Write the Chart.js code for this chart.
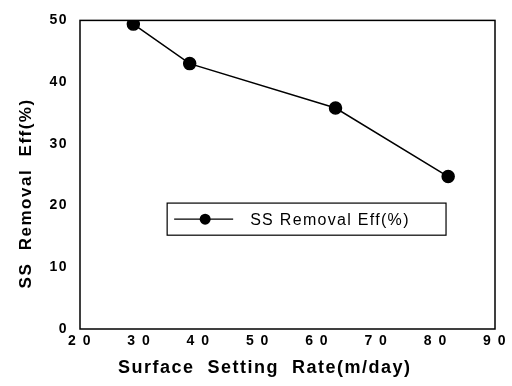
<!DOCTYPE html>
<html>
<head>
<meta charset="utf-8">
<script src="https://cdn.jsdelivr.net/npm/chart.js@4.4.0/dist/chart.umd.min.js"></script>
<style>
  html, body { margin: 0; padding: 0; background: #fff; }
  #wrap { width: 512px; height: 386px; }
</style>
</head>
<body>
<div id="wrap"><canvas id="chart" width="512" height="386"></canvas></div>
<script>
// data
const rates = [29.0, 38.5, 63.1, 82.1];          // Surface Setting Rate (m/day)
const removalEff = [49.4, 43.0, 35.8, 24.7];     // SS Removal Eff (%)
const seriesName = 'SS Removal Eff(%)';
const xTicks = [20, 30, 40, 50, 60, 70, 80, 90];
const yTicks = [0, 10, 20, 30, 40, 50];

const FONT = "'Liberation Sans', Arial, sans-serif";

// wide letter spacing like the scanned original
const spacingPlugin = {
    id: 'spacing',
    beforeDraw(chart) { chart.ctx.letterSpacing = '1.5px'; }
};

// frame around the plot + boxed legend inside the plot
const framePlugin = {
    id: 'frame',
    afterDraw(chart) {
        const ctx = chart.ctx;
        const a = chart.chartArea;
        const w = a.right - a.left, h = a.bottom - a.top;
        ctx.save();
        ctx.strokeStyle = '#000';
        ctx.lineWidth = 1.5;
        ctx.strokeRect(a.left, a.top, w, h);

        // legend box
        const bx = a.left + 0.21 * w, by = a.top + 0.592 * h;
        const bw = 0.672 * w, bh = 0.104 * h;
        ctx.lineWidth = 1.2;
        ctx.strokeRect(bx, by, bw, bh);
        const cy = by + bh / 2;
        ctx.beginPath();
        ctx.moveTo(bx + 7, cy);
        ctx.lineTo(bx + 66, cy);
        ctx.stroke();
        ctx.beginPath();
        ctx.arc(bx + 38, cy, 5.5, 0, Math.PI * 2);
        ctx.fillStyle = '#000';
        ctx.fill();
        ctx.letterSpacing = '1.3px';
        ctx.font = '16px ' + FONT;
        ctx.textBaseline = 'middle';
        ctx.fillText(seriesName, bx + 83, cy + 1);
        ctx.restore();
    }
};

new Chart(document.getElementById('chart'), {
    type: 'line',
    data: {
        datasets: [{
            label: seriesName,
            data: rates.map((x, i) => ({ x: x, y: removalEff[i] })),
            borderColor: '#000',
            backgroundColor: '#000',
            borderWidth: 1.5,
            pointRadius: 6,
            pointBackgroundColor: '#000',
            pointBorderColor: '#000',
            tension: 0
        }]
    },
    options: {
        responsive: false,
        animation: false,
        layout: { padding: { left: 0, right: 17, top: 13, bottom: 7 } },
        plugins: { legend: { display: false }, tooltip: { enabled: false } },
        scales: {
            x: {
                type: 'linear',
                min: 20, max: 90,
                afterBuildTicks: s => { s.ticks = xTicks.map(v => ({ value: v })); },
                afterFit: s => { s.height = 50; },
                grid: { display: false, drawTicks: false },
                border: { display: false },
                ticks: {
                    color: '#000',
                    padding: 4,
                    font: { family: FONT, size: 14, weight: 'bold' },
                    callback: v => String(v).split('').join(' ')
                },
                title: {
                    display: true,
                    text: 'Surface  Setting  Rate(m/day)       ',
                    color: '#000',
                    padding: { top: 0, bottom: 0 },
                    font: { family: FONT, size: 18, weight: 'bold' }
                }
            },
            y: {
                min: 0, max: 50,
                afterBuildTicks: s => { s.ticks = yTicks.map(v => ({ value: v })); },
                afterFit: s => { s.width = 80; },
                grid: { display: false, drawTicks: false },
                border: { display: false },
                ticks: {
                    color: '#000',
                    padding: 12,
                    font: { family: FONT, size: 14, weight: 'bold' }
                },
                title: {
                    display: true,
                    text: 'SS  Removal  Eff(%)      ',
                    color: '#000',
                    padding: { top: 16, bottom: 0 },
                    font: { family: FONT, size: 17, weight: 'bold' }
                }
            }
        }
    },
    plugins: [spacingPlugin, framePlugin]
});
</script>
</body>
</html>
